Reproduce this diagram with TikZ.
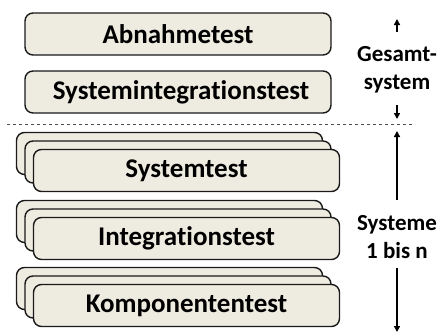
\documentclass[tikz,border=0pt]{standalone}
\usepackage{fontspec}
\setmainfont[Ligatures={NoCommon}]{Carlito}
\usetikzlibrary{arrows.meta}
\definecolor{boxfill}{HTML}{EEEBE0}
\definecolor{boxline}{HTML}{1A1A1A}
\begin{document}
\begin{tikzpicture}[x=1pt,y=-1pt,
  tbox/.style={draw=boxline, line width=1.4pt, fill=boxfill, rounded corners=8pt,
    minimum width=306pt, minimum height=42pt, inner sep=0pt,
    font=\fontsize{27}{30}\selectfont\bfseries},
  side/.style={font=\fontsize{23}{28.5}\selectfont\bfseries, align=center, inner sep=0pt},
  arr/.style={line width=2pt, -{Triangle[length=6pt,width=6pt]}}]
\useasboundingbox (0,0) rectangle (440,333);
\node[tbox] (abn) at (178,34) {Abnahmetest};
\node[tbox] (sysint) at (178,92) {\hspace*{6pt}Systemintegrationstest};
\draw[dashed, line width=0.8pt, color=black!70] (7,124) -- (415,124);
% Systemtest stack
\node[tbox] (sysA) at (169.5,153.5) {};
\node[tbox] (sysB) at (178,162) {};
\node[tbox] (sysC) at (186.5,170.5) {Systemtest};
% Integrationstest stack
\node[tbox] (intA) at (169.5,221.5) {};
\node[tbox] (intB) at (178,230) {};
\node[tbox] (intC) at (186.5,238.5) {Integrationstest};
% Komponententest stack
\node[tbox] (komA) at (169.5,288.5) {};
\node[tbox] (komB) at (178,297) {};
\node[tbox] (komC) at (186.5,305.5) {Komponententest};
% side labels
\node[side] (ges) at (397,70) {Gesamt-\\system};
\node[side] (sysn) at (397,237) {Systeme\\1 bis n};
\coordinate (g1) at (397,32);
\coordinate (g2) at (397,19);
\coordinate (g3) at (397,105);
\coordinate (g4) at (397,119);
\coordinate (s1) at (397,200);
\coordinate (s2) at (397,131);
\coordinate (s3) at (397,268);
\coordinate (s4) at (397,332);
\draw[arr] (g1) -- (g2);
\draw[arr] (g3) -- (g4);
\draw[arr] (s1) -- (s2);
\draw[arr] (s3) -- (s4);
\end{tikzpicture}
\end{document}
